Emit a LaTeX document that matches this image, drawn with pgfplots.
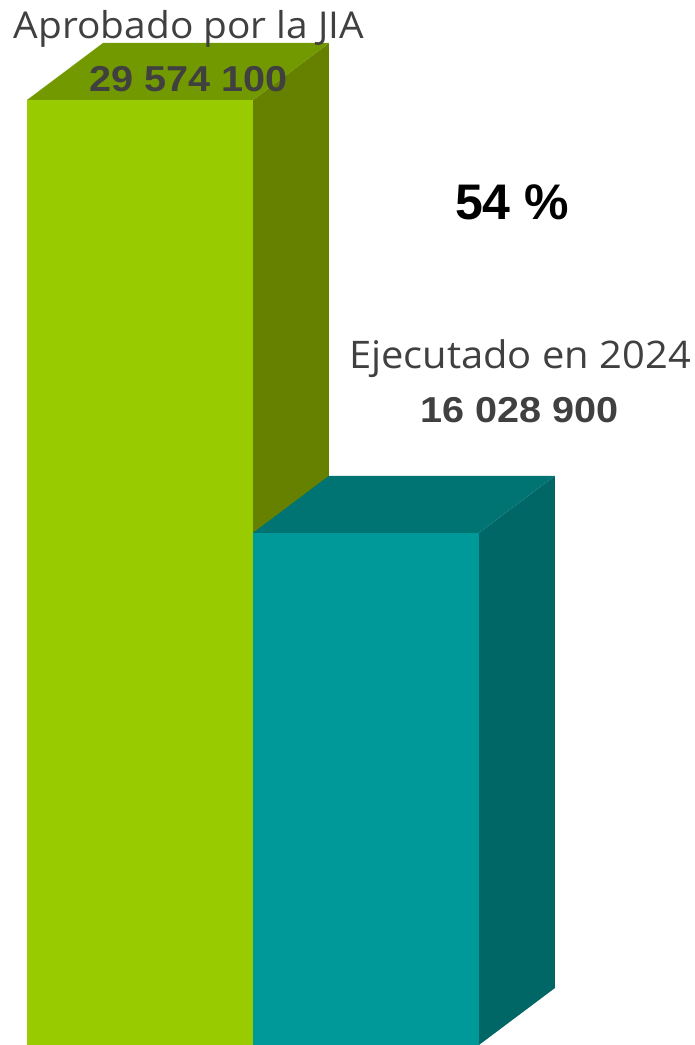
\documentclass[border=0pt]{standalone}
\usepackage{pgfplots}
\pgfplotsset{compat=1.18}
\usepackage{fontspec}
\setmainfont{Open Sans}
\newfontfamily\lblfont[FakeStretch=1.05]{Open Sans}
\newfontfamily\numfont[FakeStretch=1.1]{Liberation Sans}
\newfontfamily\pctfont{Liberation Sans}
\definecolor{gfront}{HTML}{99CC00}
\definecolor{gtop}{HTML}{739900}
\definecolor{gside}{HTML}{668000}
\definecolor{tfront}{HTML}{009999}
\definecolor{ttop}{HTML}{007373}
\definecolor{tside}{HTML}{006666}
\definecolor{txtgray}{HTML}{404040}
\begin{document}
\begin{tikzpicture}
\begin{axis}[
  scale only axis, width=695bp, height=1045bp,
  xmin=0, xmax=695, ymin=0, ymax=32703640,
  hide axis, clip=false,
]
\path (rel axis cs:0,0) rectangle (rel axis cs:1,1);
% Bar 1 (Aprobado) : side, top, front
\addplot[fill=gside, draw=none] coordinates {(253,0) (329,1783835) (329,31357935) (253,29574100)} -- cycle;
\addplot[fill=gtop, draw=none] coordinates {(27,29574100) (253,29574100) (329,31357935) (103,31357935)} -- cycle;
\addplot[ybar, bar width=226, bar shift=0pt, fill=gfront, draw=none] coordinates {(140,29574100)};
% Bar 2 (Ejecutado)
\addplot[fill=tside, draw=none] coordinates {(479,0) (555,1783835) (555,17812735) (479,16028900)} -- cycle;
\addplot[fill=ttop, draw=none] coordinates {(253,16028900) (479,16028900) (555,17812735) (329,17812735)} -- cycle;
\addplot[ybar, bar width=226, bar shift=0pt, fill=tfront, draw=none] coordinates {(366,16028900)};
% labels
\node[anchor=base, text=txtgray, font=\lblfont\fontsize{37bp}{40bp}\selectfont] at (axis cs:189,31483122) {Aprobado por la JIA};
\node[anchor=base, text=txtgray, font=\numfont\bfseries\fontsize{36bp}{40bp}\selectfont] at (axis cs:188.5,29824469) {29 574 100};
\node[anchor=base, text=black, font=\pctfont\bfseries\fontsize{50bp}{56bp}\selectfont] at (axis cs:512,25818664) {54 \%};
\node[anchor=base, text=txtgray, font=\lblfont\fontsize{38bp}{40bp}\selectfont] at (axis cs:520,21155657) {Ejecutado en 2024};
\node[anchor=base, text=txtgray, font=\numfont\bfseries\fontsize{36bp}{40bp}\selectfont] at (axis cs:519.5,19465708) {16 028 900};
\end{axis}
\end{tikzpicture}
\end{document}
